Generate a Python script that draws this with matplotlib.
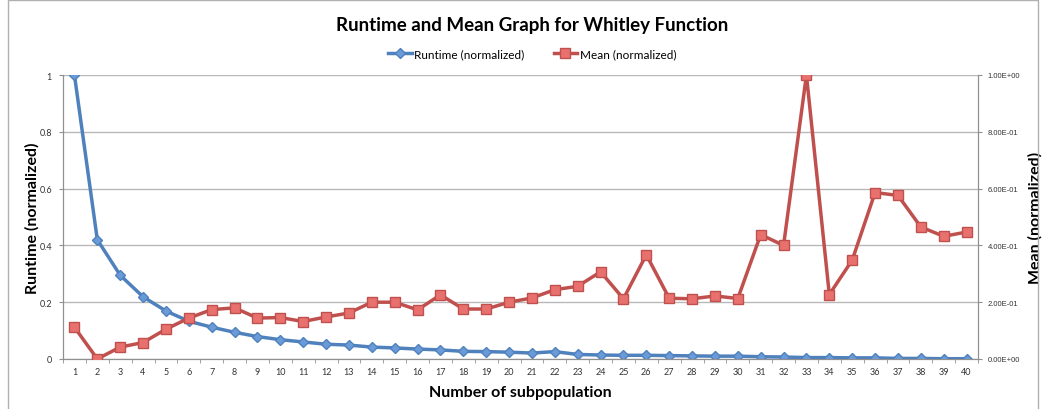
import matplotlib
matplotlib.use("Agg")
import matplotlib.pyplot as plt
from matplotlib.ticker import FixedLocator, FuncFormatter
from matplotlib.patches import Rectangle

plt.rcParams["font.family"] = ["Lato", "DejaVu Sans"]

subpop = list(range(1, 41))
runtime = [1.0, 0.42, 0.295, 0.219, 0.169, 0.133, 0.112, 0.094, 0.079, 0.068,
           0.060, 0.052, 0.049, 0.042, 0.039, 0.035, 0.032, 0.027, 0.026, 0.024,
           0.021, 0.026, 0.016, 0.014, 0.013, 0.013, 0.012, 0.011, 0.010, 0.010,
           0.008, 0.007, 0.005, 0.005, 0.004, 0.004, 0.002, 0.002, 0.001, 0.001]
mean = [0.112, 0.0, 0.042, 0.058, 0.105, 0.144, 0.174, 0.18, 0.144, 0.146,
        0.132, 0.148, 0.162, 0.2, 0.2, 0.173, 0.226, 0.176, 0.176, 0.2,
        0.215, 0.244, 0.256, 0.307, 0.212, 0.367, 0.214, 0.212, 0.222, 0.213,
        0.438, 0.4, 1.0, 0.227, 0.348, 0.586, 0.576, 0.465, 0.432, 0.447]
left_ticks = [0, 0.2, 0.4, 0.6, 0.8, 1]

fig = plt.figure(figsize=(10.46, 4.10), dpi=100)
fig.patches.append(Rectangle((8 / 1046, -0.1), 1030 / 1046, 1.097, transform=fig.transFigure,
                             fill=False, edgecolor="#b0b0b0", linewidth=1.0))

ax = fig.add_axes([63 / 1046, 50 / 410, 915 / 1046, 284 / 410])
ax2 = ax.twinx()

ax.plot(subpop, runtime, color="#4f81bd", linewidth=2.5, marker="D", markersize=5,
        markerfacecolor="#6a9bd8", markeredgecolor="#4f81bd", label="Runtime (normalized)", zorder=3)
ax2.plot(subpop, mean, color="#c0504d", linewidth=2.5, marker="s", markersize=6.5,
         markerfacecolor="#e8716e", markeredgecolor="#c0504d", label="Mean (normalized)", zorder=3)

ax.set_xlim(0.5, 40.5)
ax.set_ylim(0, 1)
ax2.set_ylim(0, 1)
ax.set_xticks(subpop)
ax.xaxis.set_minor_locator(FixedLocator([i + 0.5 for i in range(0, 41)]))
ax.tick_params(axis="x", which="major", length=0, labelsize=6.5, labelcolor="#333333", pad=6)
ax.tick_params(axis="x", which="minor", length=3, color="#909090")
ax.set_yticks(left_ticks)
ax.set_yticklabels(["0", "0.2", "0.4", "0.6", "0.8", "1"])
ax.tick_params(axis="y", length=3, color="#909090", labelsize=6.5, labelcolor="#333333", pad=5)
ax2.set_yticks(left_ticks)
ax2.yaxis.set_major_formatter(FuncFormatter(lambda v, p: "%.2E" % v))
ax2.tick_params(axis="y", length=3, color="#909090", labelsize=5.5, labelcolor="#333333", pad=4,
                labelfontfamily="Liberation Sans")

ax.grid(axis="y", color="#b8b8b8", linewidth=1.0)
ax.set_axisbelow(True)
for a in (ax, ax2):
    a.spines["top"].set_visible(False)
    a.spines["left"].set_color("#909090")
    a.spines["right"].set_color("#909090")
    a.spines["bottom"].set_color("#909090")

ax.set_xlabel("Number of subpopulation", fontsize=11.5, fontweight="bold", labelpad=6)
ax.set_ylabel("Runtime (normalized)", fontsize=11.5, fontweight="bold", ha="center", va="center")
ax.yaxis.set_label_coords(-31 / 915, 0.5)
ax2.set_ylabel("Mean (normalized)", fontsize=11.5, fontweight="bold", ha="center", va="center")
ax2.yaxis.set_label_coords(1 + 57 / 915, 0.5)

fig.suptitle("Runtime and Mean Graph for Whitley Function", x=532 / 1046, y=1 - 25 / 410,
             va="center", fontsize=13.5, fontweight="bold")

h1, l1 = ax.get_legend_handles_labels()
h2, l2 = ax2.get_legend_handles_labels()
fig.legend(h1 + h2, l1 + l2, loc="center", bbox_to_anchor=(532 / 1046, 1 - 55 / 410), ncol=2,
           frameon=False, fontsize=8.5, handlelength=2.0, columnspacing=2.5, handletextpad=0.2)

fig.savefig("out.png", dpi=100)
